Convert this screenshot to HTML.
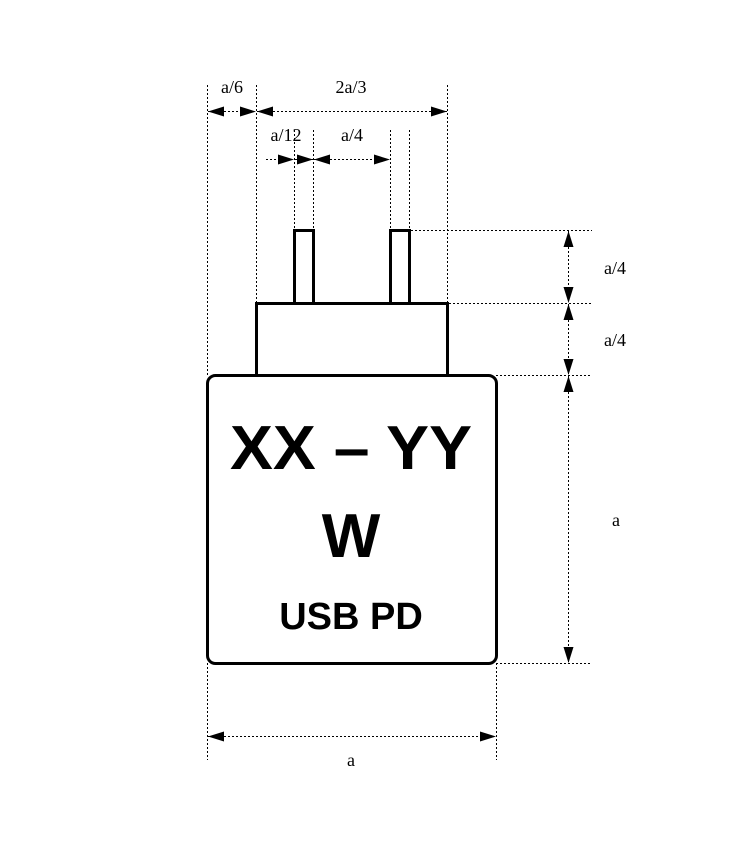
<!DOCTYPE html>
<html><head><meta charset="utf-8"><style>
html,body{margin:0;padding:0;background:#fff;}
svg{display:block;}
</style></head><body>
<svg width="734" height="852" viewBox="0 0 734 852" xmlns="http://www.w3.org/2000/svg">
<defs>
<marker id="ae" markerWidth="16" markerHeight="10" refX="16" refY="5" orient="auto" markerUnits="userSpaceOnUse"><path d="M0,0 L16,5 L0,10 Z" fill="#000"/></marker>
<marker id="as" markerWidth="16" markerHeight="10" refX="0" refY="5" orient="auto" markerUnits="userSpaceOnUse"><path d="M16,0 L0,5 L16,10 Z" fill="#000"/></marker>
</defs>
<g stroke="#000" stroke-width="1" stroke-dasharray="2,2" fill="none">
<line x1="207.5" y1="85" x2="207.5" y2="375"/>
<line x1="207.5" y1="663" x2="207.5" y2="760"/>
<line x1="496.5" y1="663" x2="496.5" y2="760"/>
<line x1="256.5" y1="85" x2="256.5" y2="303"/>
<line x1="447.5" y1="85" x2="447.5" y2="303"/>
<line x1="294.5" y1="130" x2="294.5" y2="230"/>
<line x1="313.5" y1="130" x2="313.5" y2="230"/>
<line x1="390.5" y1="130" x2="390.5" y2="230"/>
<line x1="409.5" y1="130" x2="409.5" y2="230"/>
<line x1="411" y1="230.5" x2="592" y2="230.5"/>
<line x1="449" y1="303.5" x2="592" y2="303.5"/>
<line x1="496" y1="375.5" x2="592" y2="375.5"/>
<line x1="496" y1="663.5" x2="592" y2="663.5"/>
<line x1="208" y1="111.5" x2="256" y2="111.5" marker-start="url(#as)" marker-end="url(#ae)"/>
<line x1="257" y1="111.5" x2="447" y2="111.5" marker-start="url(#as)" marker-end="url(#ae)"/>
<line x1="266" y1="159.5" x2="294" y2="159.5" marker-end="url(#ae)"/>
<line x1="295" y1="159.5" x2="313" y2="159.5" marker-end="url(#ae)"/>
<line x1="314" y1="159.5" x2="390" y2="159.5" marker-start="url(#as)" marker-end="url(#ae)"/>
<line x1="568.5" y1="231" x2="568.5" y2="303" marker-start="url(#as)" marker-end="url(#ae)"/>
<line x1="568.5" y1="304" x2="568.5" y2="375" marker-start="url(#as)" marker-end="url(#ae)"/>
<line x1="568.5" y1="376" x2="568.5" y2="663" marker-start="url(#as)" marker-end="url(#ae)"/>
<line x1="208" y1="736.5" x2="496" y2="736.5" marker-start="url(#as)" marker-end="url(#ae)"/>
</g>
<g stroke="#000" stroke-width="3" fill="#fff">
<rect x="294.5" y="230.5" width="19" height="73"/>
<rect x="390.5" y="230.5" width="19" height="73"/>
<rect x="256.5" y="303.5" width="191" height="72"/>
<rect x="207.5" y="375.5" width="289" height="288" rx="8" ry="8"/>
</g>
<g font-family="'Liberation Serif', serif" font-size="18" fill="#000" text-anchor="middle">
<text x="232" y="93">a/6</text>
<text x="351" y="93">2a/3</text>
<text x="286" y="141">a/12</text>
<text x="352" y="141">a/4</text>
<text x="615" y="274">a/4</text>
<text x="615" y="346">a/4</text>
<text x="616" y="526">a</text>
<text x="351" y="766">a</text>
</g>
<g font-family="'Liberation Sans', sans-serif" font-weight="bold" fill="#000" text-anchor="middle">
<text x="351" y="469" font-size="62" textLength="242" lengthAdjust="spacingAndGlyphs">XX – YY</text>
<text x="351" y="557" font-size="62">W</text>
<text x="351" y="629" font-size="38">USB PD</text>
</g>
</svg>
</body></html>
